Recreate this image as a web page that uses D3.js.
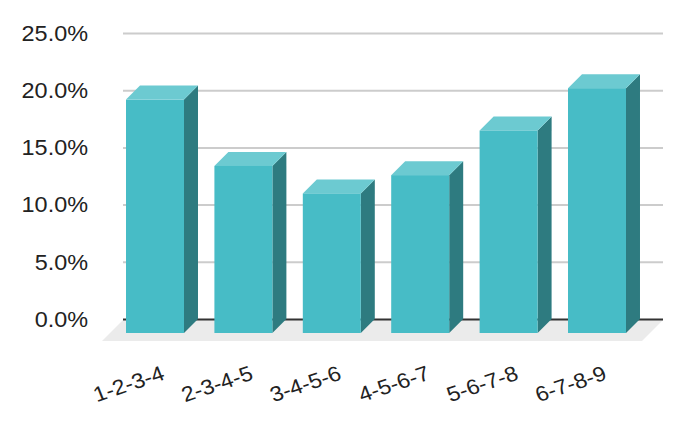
<!DOCTYPE html>
<html>
<head>
<meta charset="utf-8">
<script src="https://cdn.jsdelivr.net/npm/d3@7"></script>
<style>
  html, body { margin: 0; padding: 0; background: #ffffff; }
  svg { display: block; }
  text { font-family: "Liberation Sans", Arial, sans-serif; }
</style>
</head>
<body>
<svg id="chart" width="684" height="424"></svg>
<script>
// ---- data ----
const categories = ["1-2-3-4", "2-3-4-5", "3-4-5-6", "4-5-6-7", "5-6-7-8", "6-7-8-9"];
const values = [20.4, 14.6, 12.2, 13.8, 17.7, 21.4];
const yTicks = [0, 5, 10, 15, 20, 25];

// ---- layout ----
const wallLeft = 123, wallRight = 663;
const wallBottom = 319, wallTop = 33;
const barDepth = 14;
const floorDepth = 21;
const yFont = 21.5, xFont = 21;
const textStretch = 1.09;

const colors = {
  front: "#47bcc6",
  top: "#6ccad1",
  side: "#2e7b80",
  grid: "#cccccc",
  base: "#333333",
  floor: "#ebebeb",
  text: "#222222"
};

const svg = d3.select("#chart");

const y = d3.scaleLinear().domain([0, 25]).range([wallBottom, wallTop]);
const x = d3.scaleBand()
  .domain(categories)
  .range([110.8, 641.2])
  .paddingInner(0.344)
  .paddingOuter(0.172);

// floor
svg.append("polygon")
  .attr("points", [
    [wallLeft, wallBottom + 1],
    [wallRight, wallBottom + 1],
    [wallRight - floorDepth, wallBottom + 1 + floorDepth],
    [wallLeft - floorDepth, wallBottom + 1 + floorDepth]
  ].map(p => p.join(",")).join(" "))
  .attr("fill", colors.floor);

// y axis + gridlines
const yAxis = d3.axisLeft(y)
  .tickValues(yTicks)
  .tickSize(-(wallRight - wallLeft))
  .tickPadding(35)
  .tickFormat(d => d.toFixed(1) + "%");

const gy = svg.append("g")
  .attr("transform", `translate(${wallLeft},0)`)
  .call(yAxis);
gy.select(".domain").remove();
gy.selectAll(".tick line")
  .attr("stroke", d => d === 0 ? colors.base : colors.grid)
  .attr("stroke-width", 2);
gy.selectAll(".tick text")
  .attr("fill", colors.text)
  .attr("font-size", yFont)
  .attr("font-family", "'Liberation Sans', Arial, sans-serif")
  .attr("x", 0)
  .attr("dy", "0.34em")
  .attr("transform", `translate(-35,0) scale(${textStretch},1)`);

// bars
const bars = svg.append("g").selectAll("g.bar")
  .data(categories.map((c, i) => ({ c, v: values[i] })))
  .join("g")
  .attr("class", "bar");

bars.each(function (d) {
  const g = d3.select(this);
  const x0 = x(d.c), x1 = x(d.c) + x.bandwidth();
  const yTopFront = y(d.v) + barDepth;
  const yBotFront = y(0) + barDepth;
  g.append("polygon")
    .attr("points", [
      [x1, yTopFront], [x1 + barDepth, yTopFront - barDepth],
      [x1 + barDepth, yBotFront - barDepth], [x1, yBotFront]
    ].map(p => p.join(",")).join(" "))
    .attr("fill", colors.side);
  g.append("polygon")
    .attr("points", [
      [x0, yTopFront], [x1, yTopFront],
      [x1 + barDepth, yTopFront - barDepth], [x0 + barDepth, yTopFront - barDepth]
    ].map(p => p.join(",")).join(" "))
    .attr("fill", colors.top);
  g.append("rect")
    .attr("x", x0)
    .attr("y", yTopFront)
    .attr("width", x.bandwidth())
    .attr("height", yBotFront - yTopFront)
    .attr("fill", colors.front);
});

// x axis labels
const xAxis = d3.axisBottom(x).tickSize(0);
const gx = svg.append("g").call(xAxis);
gx.select(".domain").remove();
const lx = 11, ly = 379;
gx.selectAll(".tick text")
  .attr("fill", colors.text)
  .attr("font-size", xFont)
  .attr("font-family", "'Liberation Sans', Arial, sans-serif")
  .attr("text-anchor", "end")
  .attr("x", 0)
  .attr("y", 0)
  .attr("dy", 0)
  .attr("transform", `translate(${lx},${ly}) scale(${textStretch},1) rotate(-20)`);
</script>
</body>
</html>
